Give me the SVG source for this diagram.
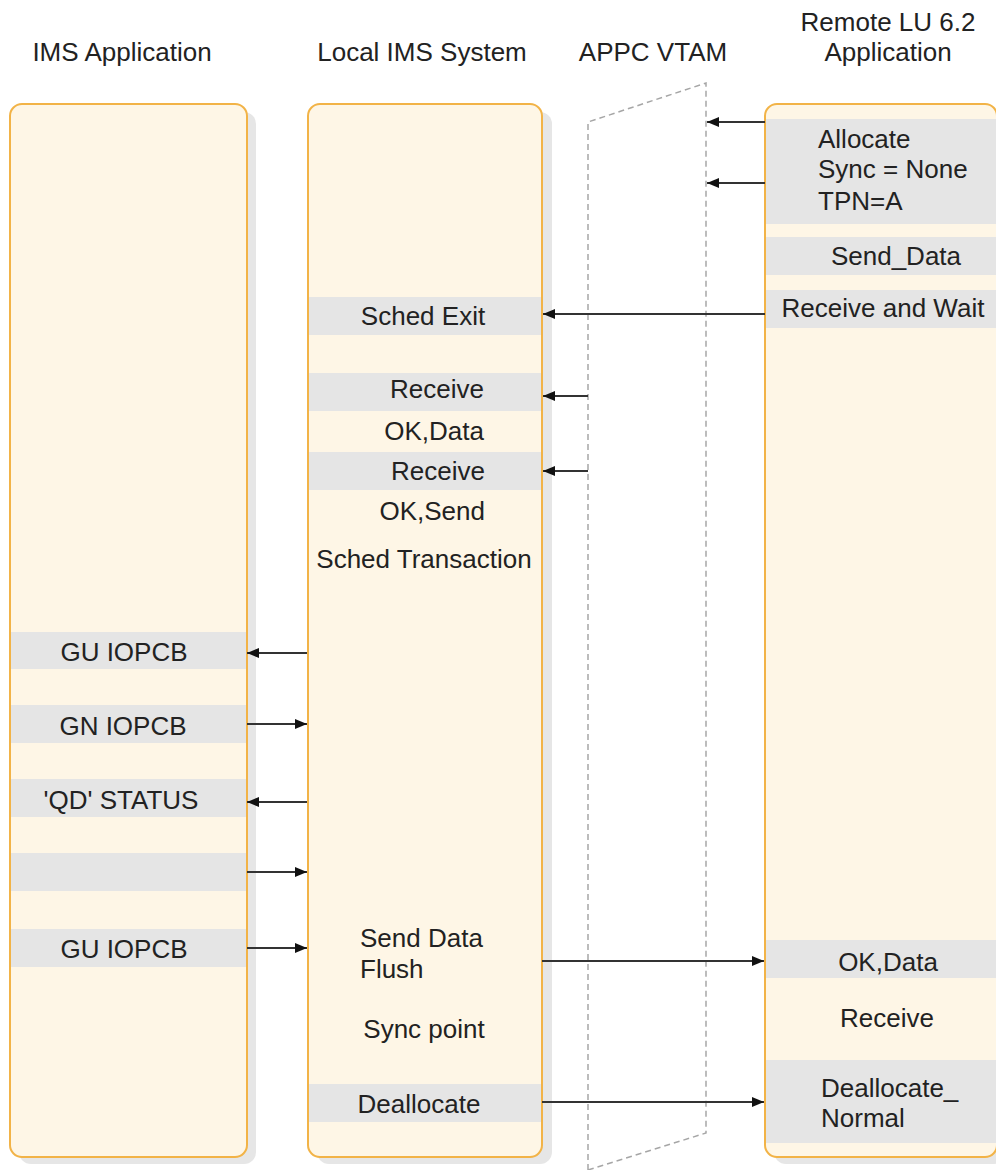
<svg xmlns="http://www.w3.org/2000/svg" width="996" height="1170" viewBox="0 0 996 1170">
<defs>
<style>
text{font-family:"Liberation Sans",Arial,sans-serif;font-size:26px;fill:#222}
.c{text-anchor:middle}
.e{text-anchor:end}
.box{fill:#fef6e6;stroke:#f2b347;stroke-width:2}
.sh{fill:#e6e6e6}
.band{fill:#e5e5e5}
.vt{fill:none;stroke:#a6a6a6;stroke-width:1.5;stroke-dasharray:6 4}
.ar{fill:none;stroke:#333;stroke-width:1.8;marker-end:url(#ah)}
</style>
<marker id="ah" viewBox="0 0 12 10" refX="12" refY="5" markerWidth="12" markerHeight="10" markerUnits="userSpaceOnUse" orient="auto">
<path d="M0,0 L12,5 L0,10 Z" fill="#111"/>
</marker>
</defs>
<rect width="996" height="1170" fill="#fff"/>

<g id="headers">
<text class="c" x="122" y="61">IMS Application</text>
<text class="c" x="422" y="61">Local IMS System</text>
<text class="c" x="653" y="61">APPC VTAM</text>
<text class="c" x="888" y="31">Remote LU 6.2</text>
<text class="c" x="888" y="61">Application</text>
</g>

<g id="appc-vtam">
<path class="vt" d="M588,1170 L588,122 L706,83 L706,1133 L588,1170"/>
</g>

<g id="ims-application">
<rect class="sh" x="19" y="112" width="237" height="1052" rx="12"/>
<rect class="box" x="10" y="104" width="237" height="1053" rx="12"/>
<rect class="band" x="11" y="632" width="235" height="37"/>
<rect class="band" x="11" y="705" width="235" height="38"/>
<rect class="band" x="11" y="779" width="235" height="38"/>
<rect class="band" x="11" y="853" width="235" height="38"/>
<rect class="band" x="11" y="929" width="235" height="38"/>
<text class="c" x="124" y="661">GU IOPCB</text>
<text class="c" x="123" y="735">GN IOPCB</text>
<text class="c" x="121" y="809">'QD' STATUS</text>
<text class="c" x="124" y="958">GU IOPCB</text>
</g>

<g id="local-ims-system">
<rect class="sh" x="317" y="112" width="235" height="1052" rx="12"/>
<rect class="box" x="308" y="104" width="234" height="1053" rx="12"/>
<rect class="band" x="309" y="297" width="232" height="38"/>
<rect class="band" x="309" y="373" width="232" height="38"/>
<rect class="band" x="309" y="452" width="232" height="38"/>
<rect class="band" x="309" y="1084" width="232" height="38"/>
<text class="c" x="423" y="325">Sched Exit</text>
<text class="e" x="484" y="398">Receive</text>
<text class="e" x="484" y="440">OK,Data</text>
<text class="e" x="485" y="480">Receive</text>
<text class="e" x="485" y="520">OK,Send</text>
<text class="c" x="424" y="568">Sched Transaction</text>
<text x="360" y="947">Send Data</text>
<text x="360" y="978">Flush</text>
<text class="c" x="424" y="1038">Sync point</text>
<text class="c" x="419" y="1113">Deallocate</text>
</g>

<g id="remote-lu-application">
<rect class="sh" x="774" y="112" width="232" height="1052" rx="12"/>
<rect class="box" x="765" y="104" width="232" height="1053" rx="12"/>
<rect class="band" x="766" y="119" width="230" height="105"/>
<rect class="band" x="766" y="237" width="230" height="38"/>
<rect class="band" x="766" y="290" width="230" height="38"/>
<rect class="band" x="766" y="940" width="230" height="38"/>
<rect class="band" x="766" y="1060" width="230" height="83"/>
<text x="818" y="148">Allocate</text>
<text x="818" y="178">Sync = None</text>
<text x="818" y="210">TPN=A</text>
<text class="c" x="896" y="265">Send_Data</text>
<text class="c" x="883" y="317">Receive and Wait</text>
<text class="c" x="888" y="971">OK,Data</text>
<text class="c" x="887" y="1027">Receive</text>
<text x="821" y="1097">Deallocate_</text>
<text x="821" y="1127">Normal</text>
</g>

<g id="connectors">
<line class="ar" x1="765" y1="122" x2="707" y2="122"/>
<line class="ar" x1="765" y1="183" x2="707" y2="183"/>
<line class="ar" x1="765" y1="314" x2="543" y2="314"/>
<line class="ar" x1="588" y1="396" x2="543" y2="396"/>
<line class="ar" x1="588" y1="471" x2="543" y2="471"/>
<line class="ar" x1="307" y1="653" x2="247" y2="653"/>
<line class="ar" x1="247" y1="724" x2="307" y2="724"/>
<line class="ar" x1="307" y1="802" x2="247" y2="802"/>
<line class="ar" x1="247" y1="872" x2="307" y2="872"/>
<line class="ar" x1="247" y1="948" x2="307" y2="948"/>
<line class="ar" x1="542" y1="961" x2="764" y2="961"/>
<line class="ar" x1="542" y1="1102" x2="764" y2="1102"/>
</g>
</svg>
